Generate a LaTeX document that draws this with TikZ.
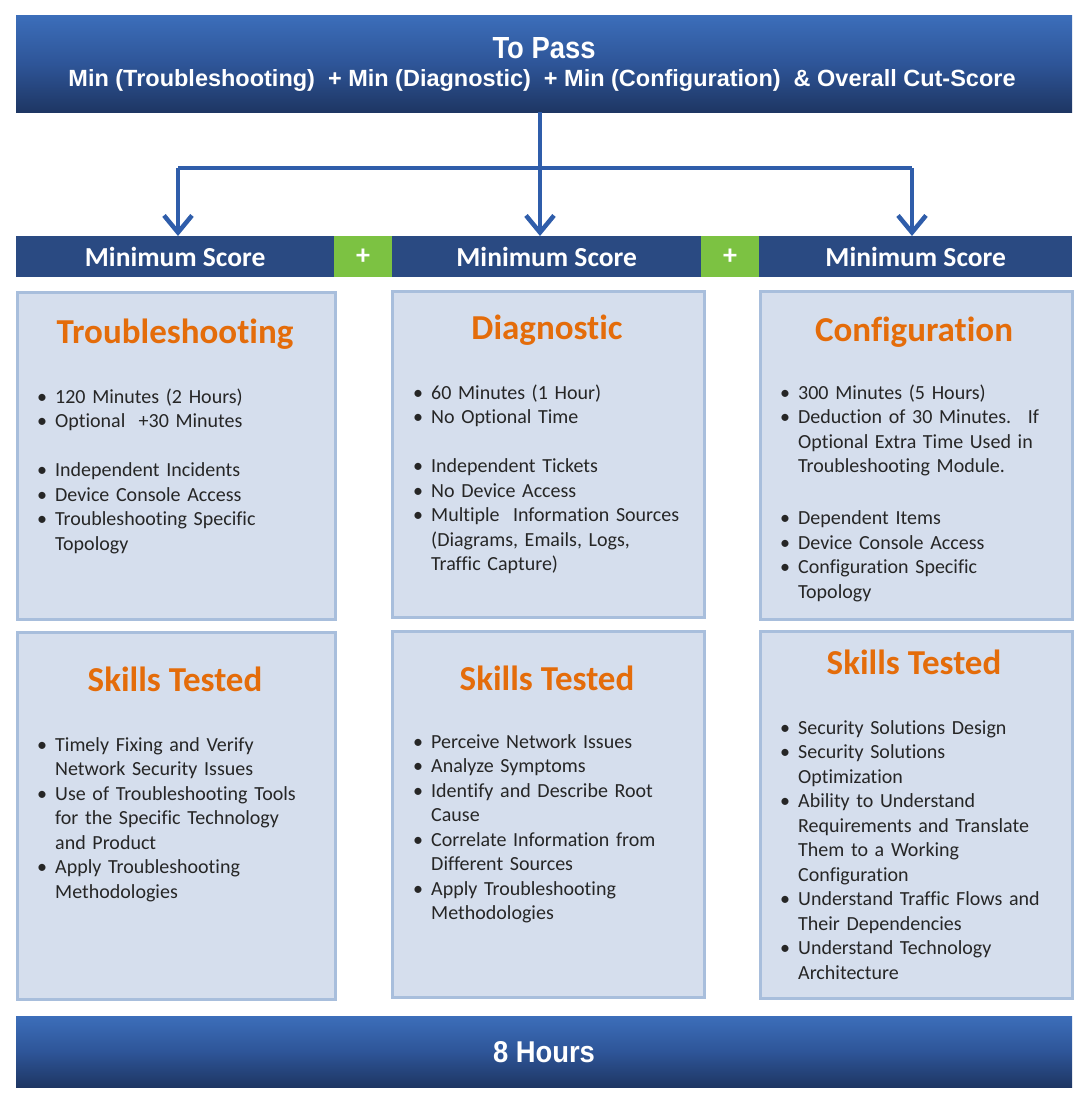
\documentclass[tikz,border=0pt]{standalone}
\usepackage{fontspec}
\setmainfont{Carlito}[Ligatures={NoCommon}]
\newfontfamily\bannerfont{Liberation Sans}
\usetikzlibrary{arrows.meta}
\definecolor{bnTop}{HTML}{3C6EBA}
\definecolor{bnMid}{HTML}{2E5598}
\definecolor{bnBot}{HTML}{1E3663}
\definecolor{segBlue}{HTML}{2A4A82}
\definecolor{segGreen}{HTML}{7CC242}
\definecolor{arrBlue}{HTML}{2F5DAA}
\definecolor{cardFill}{HTML}{D5DEED}
\definecolor{cardLine}{HTML}{A8BEDC}
\definecolor{ttlOrange}{HTML}{E46C0A}
\definecolor{bodyText}{HTML}{262626}
\newcommand\bul{\makebox[18pt][l]{•}}
\newcommand\ind{\hspace*{18pt}}
\begin{document}
\begin{tikzpicture}[x=1pt,y=-1pt,
  banner/.style={anchor=north west, inner sep=0, minimum width=1056pt,
    top color=bnTop, bottom color=bnBot, middle color=bnMid},
  bannertext/.style={text=white, inner sep=0, font=\bannerfont\bfseries},
  seg/.style={anchor=north west, inner sep=0, minimum height=41pt, fill=segBlue,
    text=white, font=\fontsize{27.5}{29}\selectfont\bfseries},
  plusseg/.style={seg, fill=segGreen, font=\fontsize{28}{30}\selectfont\bfseries},
  card/.style={anchor=north west, inner sep=0, fill=cardFill, draw=cardLine, line width=3pt},
  ttl/.style={anchor=base, inner sep=0, text=ttlOrange, font=\fontsize{35}{40}\selectfont\bfseries},
  lst/.style={anchor=north west, inner sep=0, text width=330pt, align=left,
    text=bodyText, font=\fontsize{20}{24.5}\selectfont},
  conn/.style={draw=arrBlue, line width=4.5pt},
  connarrow/.style={conn, -{Straight Barb[length=17pt 0, width=28pt 0]}}
]
\useasboundingbox (0,0) rectangle (1081,1095);

% top banner
\node[banner, minimum height=97pt] (top) at (16,15) {};
\node[bannertext, font=\bannerfont\bfseries\fontsize{27}{30}\selectfont] (tp1) at (544,48) {\resizebox{103pt}{21pt}{To Pass}};
\node[bannertext, font=\bannerfont\bfseries\fontsize{21}{24}\selectfont] (tp2) at (542,80)
  {\resizebox{947pt}{17pt}{Min (Troubleshooting) \ + Min (Diagnostic) \ + Min (Configuration) \ \& Overall Cut-Score}};

% header segments
\node[seg, minimum width=318pt] (h1) at (16,236) {Minimum Score};
\node[plusseg, minimum width=58pt] (p1) at (334,236) {+};
\node[seg, minimum width=309pt] (h2) at (392,236) {Minimum Score};
\node[plusseg, minimum width=58pt] (p2) at (701,236) {+};
\node[seg, minimum width=313pt] (h3) at (759,236) {Minimum Score};

% connectors
\coordinate (j) at (540,168);
\coordinate (jl) at (178,168);
\coordinate (jr) at (912,168);
\draw[connarrow] (j |- top.south) -- (j |- h2.north);
\draw[conn] (jl) -- (jr);
\draw[connarrow] (jl) -- (jl |- h1.north);
\draw[connarrow] (jr) -- (jr |- h3.north);

% cards row 1
\node[card, minimum width=318pt, minimum height=327pt] (c1) at (16,291) {};
\node[card, minimum width=312pt, minimum height=326pt] (c2) at (391,290) {};
\node[card, minimum width=312pt, minimum height=328pt] (c3) at (759,290) {};
% cards row 2
\node[card, minimum width=318pt, minimum height=367pt] (d1) at (16,631) {};
\node[card, minimum width=312pt, minimum height=366pt] (d2) at (391,630) {};
\node[card, minimum width=312pt, minimum height=367pt] (d3) at (759,630) {};

% titles
\node[ttl] (t1) at (175,343) {Troubleshooting};
\node[ttl] (t2) at (547,339) {Diagnostic};
\node[ttl] (t3) at (914,341) {Configuration};
\node[ttl] (s1) at (175,691) {Skills Tested};
\node[ttl] (s2) at (547,690) {Skills Tested};
\node[ttl] (s3) at (914,674) {Skills Tested};

% lists row 1
\node[lst] (l1) at (37,385.85) {\strut\bul 120 Minutes (2 Hours)\\
\bul Optional \ +30 Minutes\\[24.5pt]
\bul Independent Incidents\\
\bul Device Console Access\\
\bul Troubleshooting Specific\\
\ind Topology};
\node[lst] (l2) at (413,381.85) {\strut\bul 60 Minutes (1 Hour)\\
\bul No Optional Time\\[24.5pt]
\bul Independent Tickets\\
\bul No Device Access\\
\bul Multiple \ Information Sources\\
\ind (Diagrams, Emails, Logs,\\
\ind Traffic Capture)};
\node[lst] (l3) at (780,381.85) {\strut\bul 300 Minutes (5 Hours)\\
\bul Deduction of 30 Minutes. \ If\\
\ind Optional Extra Time Used in\\
\ind Troubleshooting Module.\\[27.5pt]
\bul Dependent Items\\
\bul Device Console Access\\
\bul Configuration Specific\\
\ind Topology};

% lists row 2
\node[lst] (m1) at (37,733.85) {\strut\bul Timely Fixing and Verify\\
\ind Network Security Issues\\
\bul Use of Troubleshooting Tools\\
\ind for the Specific Technology\\
\ind and Product\\
\bul Apply Troubleshooting\\
\ind Methodologies};
\node[lst] (m2) at (413,730.85) {\strut\bul Perceive Network Issues\\
\bul Analyze Symptoms\\
\bul Identify and Describe Root\\
\ind Cause\\
\bul Correlate Information from\\
\ind Different Sources\\
\bul Apply Troubleshooting\\
\ind Methodologies};
\node[lst] (m3) at (780,716.85) {\strut\bul Security Solutions Design\\
\bul Security Solutions\\
\ind Optimization\\
\bul Ability to Understand\\
\ind Requirements and Translate\\
\ind Them to a Working\\
\ind Configuration\\
\bul Understand Traffic Flows and\\
\ind Their Dependencies\\
\bul Understand Technology\\
\ind Architecture};

% bottom banner
\node[banner, minimum height=71pt] (bot) at (16,1016) {};
\node[bannertext, font=\bannerfont\bfseries\fontsize{28}{30}\selectfont] (bt) at (544,1052) {\resizebox{102pt}{21pt}{8 Hours}};
\end{tikzpicture}
\end{document}
